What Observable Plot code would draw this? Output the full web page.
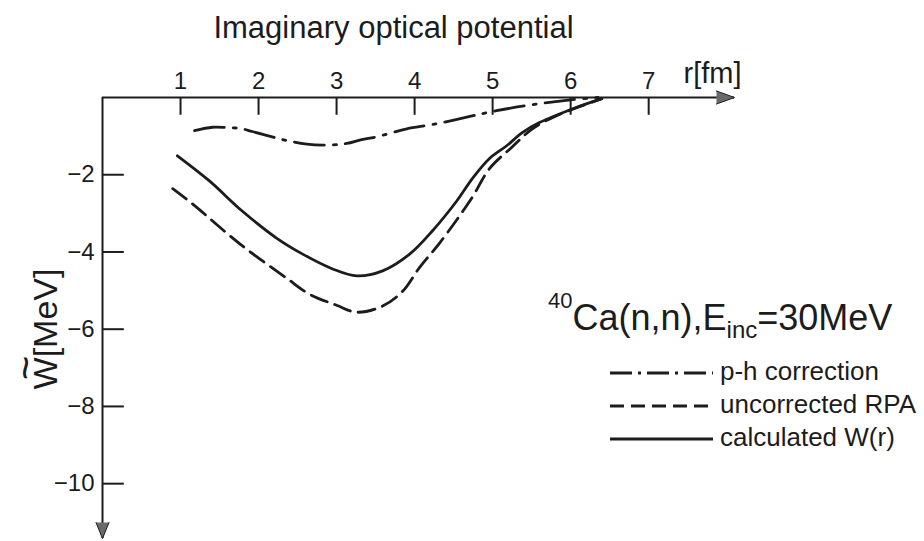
<!DOCTYPE html>
<html>
<head>
<meta charset="utf-8">
<script src="https://cdn.jsdelivr.net/npm/d3@7"></script>
<script src="https://cdn.jsdelivr.net/npm/@observablehq/plot@0.6"></script>
<style>
  body { margin: 0; background: #fff; }
  #chart { position: relative; width: 924px; height: 541px; font-family: "Liberation Sans", Arial, sans-serif; color: #1a1a1a; }
  #overlay { position: absolute; left: 0; top: 0; pointer-events: none; }
</style>
</head>
<body>
<div id="chart"></div>
<script>
// Imaginary optical potential W~(r) for 40Ca(n,n) at E_inc = 30 MeV
const xTicks = [1, 2, 3, 4, 5, 6, 7];
const yTicks = [-2, -4, -6, -8, -10];

// p-h correction (dash-dot)
const phR = [1.18, 1.41, 1.6, 1.76, 1.92, 2.31, 2.62, 2.9, 3.13, 3.32, 3.51, 3.9, 4.23, 4.71, 5.05, 5.6, 6.0, 6.35];
const phW = [-0.86, -0.77, -0.78, -0.8, -0.88, -1.09, -1.21, -1.23, -1.19, -1.09, -1.02, -0.81, -0.7, -0.49, -0.34, -0.16, -0.06, 0];

// uncorrected RPA (dashed)
const rpaR = [0.9, 1.15, 1.76, 2.36, 2.65, 3.0, 3.26, 3.59, 3.85, 4.06, 4.32, 4.62, 4.75, 4.96, 5.24, 5.51, 5.82, 6.15, 6.4];
const rpaW = [-2.36, -2.75, -3.79, -4.68, -5.09, -5.38, -5.56, -5.4, -5.01, -4.41, -3.77, -2.94, -2.55, -1.84, -1.3, -0.81, -0.47, -0.21, -0.03];

// calculated W(r) (solid)
const calcR = [0.96, 1.37, 1.79, 2.23, 2.56, 2.95, 3.26, 3.59, 3.94, 4.23, 4.54, 4.74, 4.96, 5.18, 5.38, 5.6, 6.03, 6.4];
const calcW = [-1.51, -2.16, -2.94, -3.64, -4.05, -4.44, -4.62, -4.49, -4.05, -3.45, -2.68, -2.1, -1.58, -1.25, -0.91, -0.65, -0.29, -0.03];

const xEnd = 8.1;      // tip of the r axis arrow
const yEnd = -11.42;   // tip of the W axis arrow
const xTickLen = 0.46; // tick length in W units (drawn inward)
const yTickLen = 0.28; // tick length in r units

const ink = "#1c1c1c";
const zip = (rs, ws) => rs.map((r, i) => ({r, w: ws[i]}));
const ph = zip(phR, phW), rpa = zip(rpaR, rpaW), calc = zip(calcR, calcW);

const dashDot = "30,9,3,9";
const dashed = "17,8";

const plot = Plot.plot({
  width: 924,
  height: 541,
  marginTop: 97,
  marginBottom: 3,
  marginLeft: 102,
  marginRight: 190,
  x: {domain: [0, xEnd]},
  y: {domain: [yEnd, 0]},
  style: {fontFamily: "'Liberation Sans', Arial, sans-serif", background: "white", color: ink},
  marks: [
    // axes with arrows
    Plot.ruleY([0], {x1: 0, x2: xEnd, stroke: ink, strokeWidth: 2}),
    Plot.ruleX([0], {y1: 0, y2: yEnd, stroke: ink, strokeWidth: 2}),
    Plot.vector([{x: xEnd, y: 0}], {x: "x", y: "y", rotate: 90, length: 18, r: 6.5, anchor: "end", shape: "spike", fill: "#6a6a6a", stroke: ink, strokeWidth: 1}),
    Plot.vector([{x: 0, y: yEnd}], {x: "x", y: "y", rotate: 180, length: 16, r: 6.5, anchor: "end", shape: "spike", fill: "#6a6a6a", stroke: ink, strokeWidth: 1}),
    // inward ticks
    Plot.ruleX(xTicks, {x: d => d, y1: 0, y2: -xTickLen, stroke: ink, strokeWidth: 2}),
    Plot.ruleY(yTicks, {y: d => d, x1: 0, x2: yTickLen, stroke: ink, strokeWidth: 2}),
    // tick labels
    Plot.axisX(xTicks, {anchor: "top", tickSize: 0, tickPadding: 9, fontSize: 24, label: null}),
    Plot.axisY(yTicks, {anchor: "left", tickSize: 0, tickPadding: 8, fontSize: 24, label: null}),
    // curves
    Plot.line(ph, {x: "r", y: "w", curve: "catmull-rom", stroke: ink, strokeWidth: 2.8, strokeDasharray: dashDot}),
    Plot.line(rpa, {x: "r", y: "w", curve: "catmull-rom", stroke: ink, strokeWidth: 2.8, strokeDasharray: dashed}),
    Plot.line(calc, {x: "r", y: "w", curve: "catmull-rom", stroke: ink, strokeWidth: 2.8}),
    // titles
    Plot.text(["Imaginary optical potential"], {frameAnchor: "top", dx: -25, dy: -60, lineAnchor: "bottom", fontSize: 31}),
    Plot.text(["r[fm]"], {frameAnchor: "top-right", textAnchor: "start", dx: -51, dy: -15, lineAnchor: "bottom", fontSize: 29, letterSpacing: "3px"}),
    Plot.text(["W[MeV]"], {frameAnchor: "left", textAnchor: "middle", rotate: -90, dx: -56, dy: 11, fontSize: 34}),
    Plot.text(["~"], {frameAnchor: "left", textAnchor: "middle", rotate: -90, dx: -76, dy: 50, fontSize: 42})
  ]
});

const chart = document.getElementById("chart");
chart.appendChild(plot);

// reaction label and line-style key
const overlay = d3.select(chart).append("svg")
  .attr("id", "overlay").attr("width", 924).attr("height", 541)
  .style("font-family", "'Liberation Sans', Arial, sans-serif").attr("fill", ink);

const note = overlay.append("text").attr("x", 548).attr("y", 330).attr("font-size", 36);
note.append("tspan").attr("font-size", 22).attr("dy", -22).text("40");
note.append("tspan").attr("dy", 22).text("Ca(n,n),E");
note.append("tspan").attr("font-size", 24).attr("dy", 8).text("inc");
note.append("tspan").attr("dy", -8).text("=30MeV");

const keyItems = [
  {label: "p-h correction", dash: "22,6,3,6"},
  {label: "uncorrected RPA", dash: "14,7"},
  {label: "calculated W(r)", dash: null}
];
keyItems.forEach((k, i) => {
  const base = 380 + i * 33;
  const ln = overlay.append("line")
    .attr("x1", 610).attr("x2", 713).attr("y1", base - 7).attr("y2", base - 7)
    .attr("stroke", ink).attr("stroke-width", 2.8);
  if (k.dash) ln.attr("stroke-dasharray", k.dash);
  overlay.append("text").attr("x", 720).attr("y", base).attr("font-size", 26).text(k.label);
});
</script>
</body>
</html>
